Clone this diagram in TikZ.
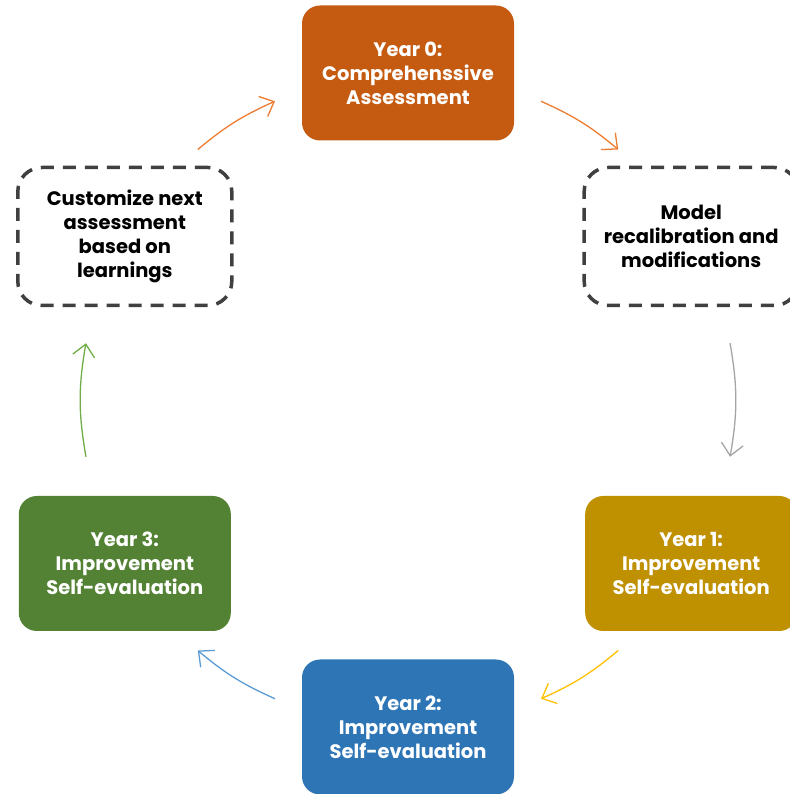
\documentclass[tikz,border=0pt]{standalone}
\usepackage{fontspec}
\setmainfont{Poppins}
\usetikzlibrary{arrows.meta}

\definecolor{rustfill}{HTML}{C55A11}
\definecolor{goldfill}{HTML}{BF9000}
\definecolor{bluefill}{HTML}{2E75B6}
\definecolor{greenfill}{HTML}{548235}
\definecolor{orangeline}{HTML}{ED7D31}
\definecolor{grayline}{HTML}{A5A5A5}
\definecolor{yellowline}{HTML}{FFC000}
\definecolor{blueline}{HTML}{5B9BD5}
\definecolor{greenline}{HTML}{70AD47}
\definecolor{dashgray}{HTML}{404040}

\begin{document}
\begin{tikzpicture}[x=1pt, y=1pt,
    year/.style = {rounded corners=18pt, minimum width=212pt, minimum height=135pt,
        align=center, text=white, font=\fontsize{19.5}{24}\selectfont\bfseries},
    plan/.style = {draw=dashgray, line width=3.5pt, dash pattern=on 13pt off 9pt,
        rounded corners=24pt, minimum width=214pt, minimum height=138pt,
        align=center, text=black, font=\fontsize{19.5}{24}\selectfont\bfseries},
    cyc/.style = {-{Straight Barb[length=12pt,width=22pt]}, line width=1.3pt}]
    \useasboundingbox (0,0) rectangle (789,794);
    \coordinate (O) at (408,394);

    \node[year, fill=rustfill] (Y0) at ([shift={(90:327)}]O) {Year 0:\\Comprehenssive\\Assessment};
    \node[plan] (M) at ([shift={(30:327)}]O) {Model\\recalibration and\\modifications};
    \node[year, fill=goldfill] (Y1) at ([shift={(-30:327)}]O) {Year 1:\\Improvement\\Self-evaluation};
    \node[year, fill=bluefill] (Y2) at ([shift={(-90:327)}]O) {Year 2:\\Improvement\\Self-evaluation};
    \node[year, fill=greenfill] (Y3) at ([shift={(-150:327)}]O) {Year 3:\\Improvement\\Self-evaluation};
    \node[plan] (C) at ([shift={(150:327)}]O) {Customize next\\assessment\\based on\\learnings};

    % arrow ends on the big circle
    \foreach \n/\a in {a1/130, a2/114, b1/66, b2/50, c1/10, c2/-10,
                       d1/-50, d2/-66, e1/-114, e2/-130, f1/190, f2/170}
        \coordinate (\n) at ([shift={(\a:327)}]O);

    \draw[cyc, orangeline] (a1) to[bend left=8] (a2);
    \draw[cyc, orangeline] (b1) to[bend left=8] (b2);
    \draw[cyc, grayline] (c1) to[bend left=10] (c2);
    \draw[cyc, yellowline] (d1) to[bend left=8] (d2);
    \draw[cyc, blueline] (e1) to[bend left=8] (e2);
    \draw[cyc, greenline] (f1) to[bend left=10] (f2);
\end{tikzpicture}
\end{document}
